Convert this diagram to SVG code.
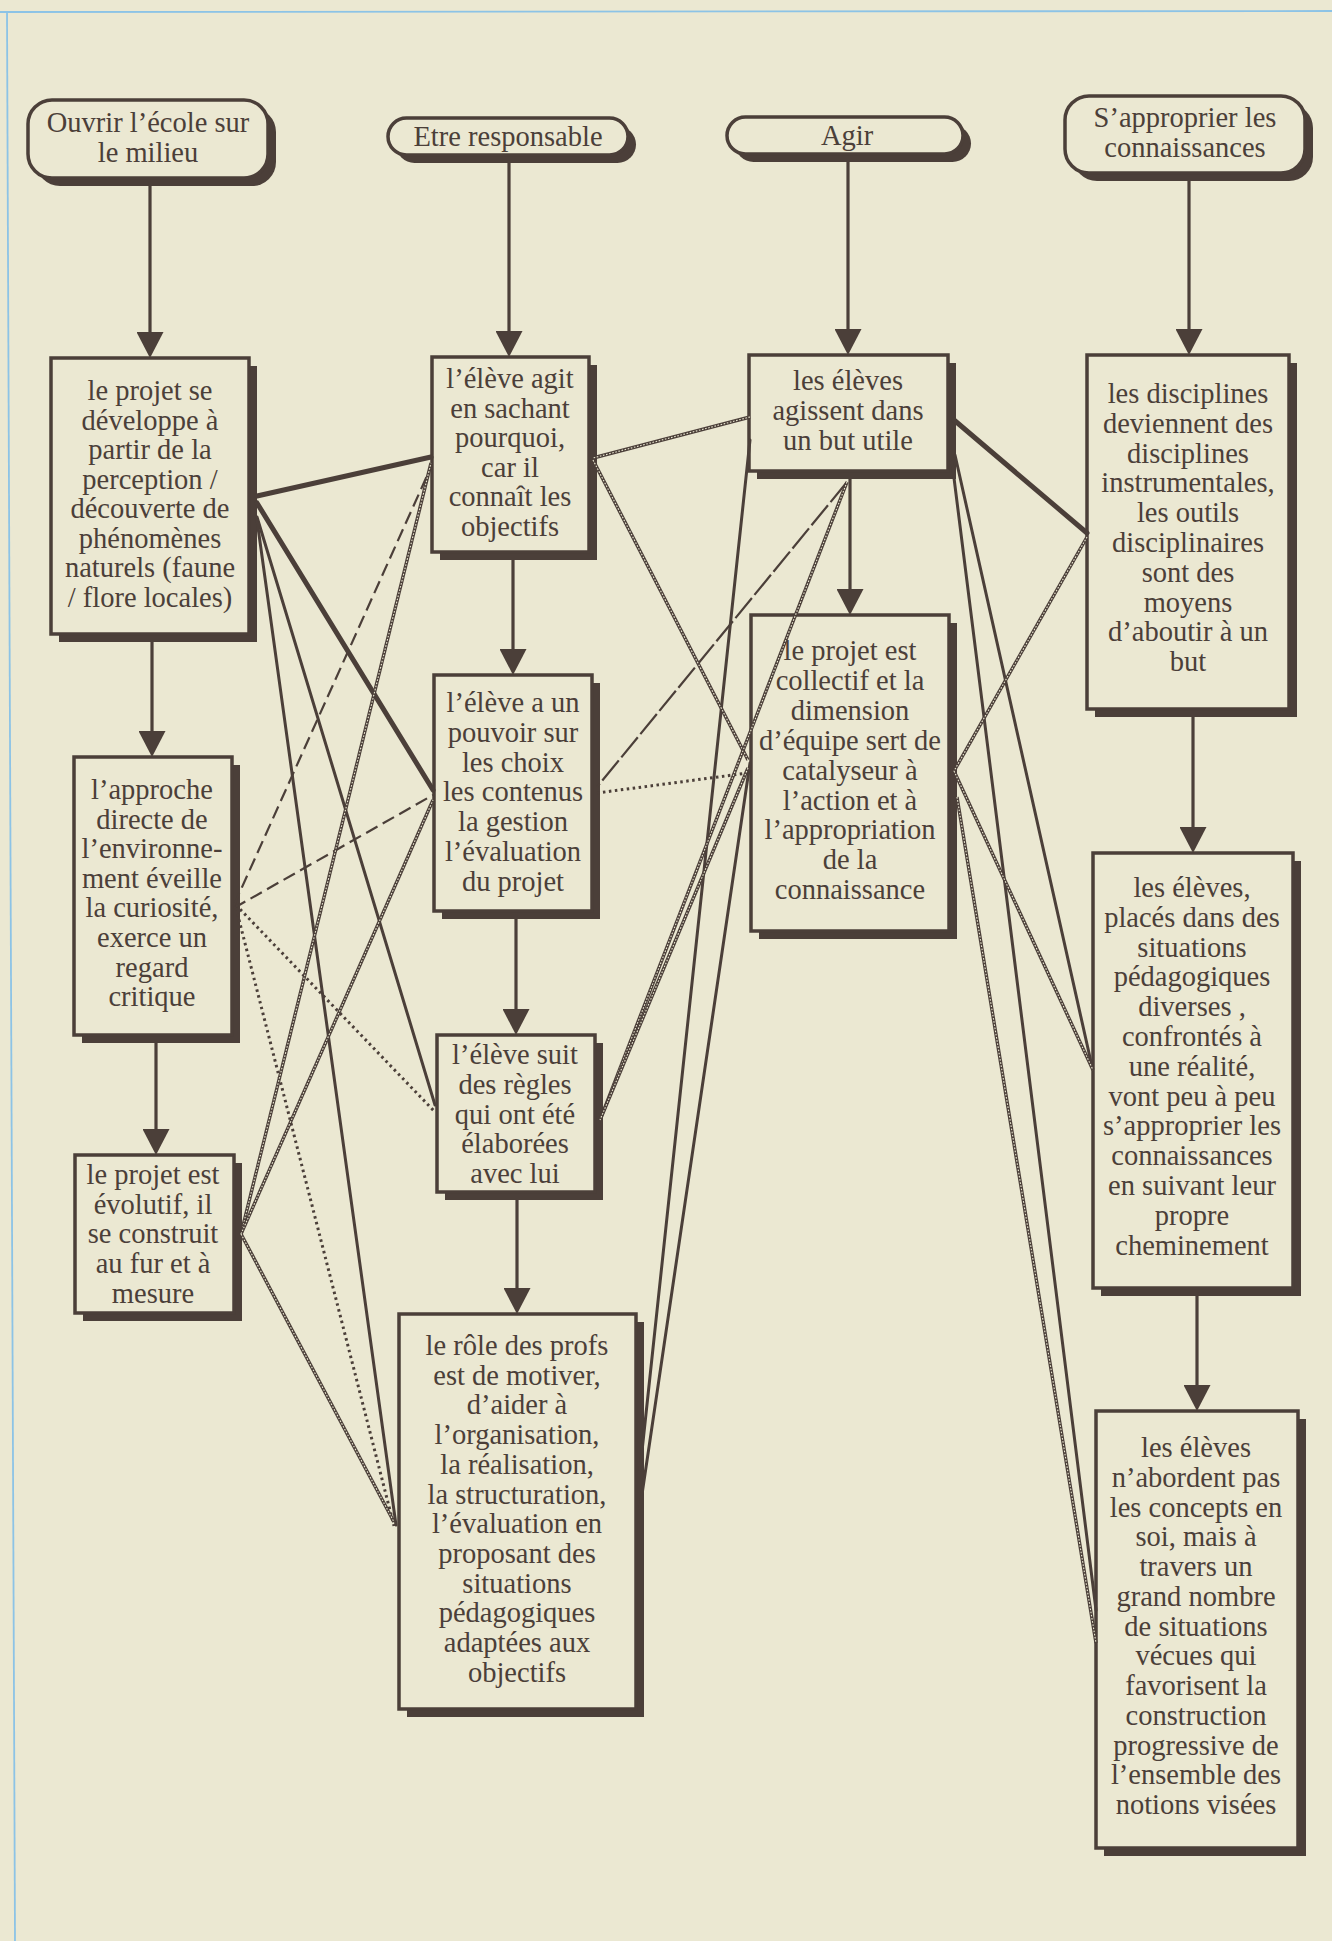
<svg xmlns="http://www.w3.org/2000/svg" width="1332" height="1941" viewBox="0 0 1332 1941">
<style>
.bg{fill:#ebe8d2}
.shadow{fill:#4b3f39}
.box{fill:#ebe8d2;stroke:#4b3f39;stroke-width:3.5}
text{font-family:"Liberation Serif","Times New Roman",serif;font-size:28.5px;fill:#4b3f39;text-anchor:middle}
.arrow{stroke:#4b3f39;stroke-width:3.2;fill:none}
.thick{stroke:#4b3f39;stroke-width:5;stroke-linecap:round}
.solid{stroke:#4b3f39;stroke-width:3;stroke-linecap:round}
.chainA{stroke:#4b3f39;stroke-width:3.4}
.chainB{stroke:#ebe8d2;stroke-width:1.1;stroke-dasharray:1.6 1.6}
.dash{stroke:#4b3f39;stroke-width:2.2;stroke-dasharray:13 6}
.brk{stroke:#4b3f39;stroke-width:2.2;stroke-dasharray:26 4}
.dot{stroke:#4b3f39;stroke-width:3;stroke-dasharray:2.5 3.5}
.edge{stroke:#8cc3e6;stroke-width:1.8}
</style>
<defs>
<marker id="ah" viewBox="0 0 26 27" refX="20" refY="13.5" markerWidth="26" markerHeight="27" orient="auto" markerUnits="userSpaceOnUse">
<path d="M0,0 L26,13.5 L0,27 z" fill="#4b3f39"/>
</marker>
<line id="c10" x1="750" y1="417" x2="593" y2="458"/>
<line id="c11" x1="593" y1="460" x2="748" y2="760"/>
<line id="c12" x1="847" y1="482" x2="600" y2="1120"/>
<line id="c13" x1="748" y1="768" x2="600" y2="1120"/>
<line id="c14" x1="1087" y1="537" x2="954" y2="771"/>
<line id="c15" x1="954" y1="771" x2="1093" y2="1070"/>
<line id="c16" x1="957" y1="797" x2="1096" y2="1643"/>
<line id="c17" x1="241" y1="1234" x2="431" y2="463"/>
<line id="c18" x1="241" y1="1234" x2="433" y2="800"/>
<line id="c19" x1="241" y1="1234" x2="394" y2="1522"/>
</defs>
<rect class="bg" x="0" y="0" width="1332" height="1941"/>
<line class="edge" x1="0" y1="12" x2="1332" y2="11"/>
<line class="edge" x1="7" y1="12" x2="15" y2="1941"/>

<g id="n-ouvrir">
<rect class="shadow" x="36" y="108" width="240" height="78" rx="24"/>
<rect class="box" x="28" y="100" width="240" height="78" rx="24"/>
<text x="148" y="132"><tspan x="148">Ouvrir l’école sur</tspan><tspan x="148" dy="29.5">le milieu</tspan></text>
</g>
<g id="n-etre">
<rect class="shadow" x="396" y="126" width="240" height="37" rx="18.5"/>
<rect class="box" x="388" y="118" width="240" height="37" rx="18.5"/>
<text x="508" y="146">Etre responsable</text>
</g>
<g id="n-agir">
<rect class="shadow" x="735" y="125" width="236" height="37" rx="18.5"/>
<rect class="box" x="727" y="117" width="236" height="37" rx="18.5"/>
<text x="847" y="145">Agir</text>
</g>
<g id="n-approprier">
<rect class="shadow" x="1073" y="104" width="240" height="77" rx="24"/>
<rect class="box" x="1065" y="96" width="240" height="77" rx="24"/>
<text x="1185" y="127"><tspan x="1185">S’approprier les</tspan><tspan x="1185" dy="30">connaissances</tspan></text>
</g>

<g id="n-a1">
<rect class="shadow" x="59" y="366" width="198" height="276"/>
<rect class="box" x="51" y="358" width="198" height="276"/>
<text x="150" y="400"><tspan x="150">le projet se</tspan><tspan x="150" dy="29.5">développe à</tspan><tspan x="150" dy="29.5">partir de la</tspan><tspan x="150" dy="29.5">perception /</tspan><tspan x="150" dy="29.5">découverte de</tspan><tspan x="150" dy="29.5">phénomènes</tspan><tspan x="150" dy="29.5">naturels (faune</tspan><tspan x="150" dy="29.5">/ flore locales)</tspan></text>
</g>
<g id="n-a2">
<rect class="shadow" x="82" y="765" width="158" height="278"/>
<rect class="box" x="74" y="757" width="158" height="278"/>
<text x="152" y="799"><tspan x="152">l’approche</tspan><tspan x="152" dy="29.6">directe de</tspan><tspan x="152" dy="29.6">l’environne-</tspan><tspan x="152" dy="29.6">ment éveille</tspan><tspan x="152" dy="29.6">la curiosité,</tspan><tspan x="152" dy="29.6">exerce un</tspan><tspan x="152" dy="29.6">regard</tspan><tspan x="152" dy="29.6">critique</tspan></text>
</g>
<g id="n-a3">
<rect class="shadow" x="83" y="1163" width="159" height="158"/>
<rect class="box" x="75" y="1155" width="159" height="158"/>
<text x="153" y="1184"><tspan x="153">le projet est</tspan><tspan x="153" dy="29.7">évolutif, il</tspan><tspan x="153" dy="29.7">se construit</tspan><tspan x="153" dy="29.7">au fur et à</tspan><tspan x="153" dy="29.7">mesure</tspan></text>
</g>

<g id="n-b1">
<rect class="shadow" x="440" y="365" width="157" height="195"/>
<rect class="box" x="432" y="357" width="157" height="195"/>
<text x="510" y="388"><tspan x="510">l’élève agit</tspan><tspan x="510" dy="29.6">en sachant</tspan><tspan x="510" dy="29.6">pourquoi,</tspan><tspan x="510" dy="29.6">car il</tspan><tspan x="510" dy="29.6">connaît les</tspan><tspan x="510" dy="29.6">objectifs</tspan></text>
</g>
<g id="n-b2">
<rect class="shadow" x="442" y="683" width="158" height="236"/>
<rect class="box" x="434" y="675" width="158" height="236"/>
<text x="513" y="712"><tspan x="513">l’élève a un</tspan><tspan x="513" dy="29.8">pouvoir sur</tspan><tspan x="513" dy="29.8">les choix</tspan><tspan x="513" dy="29.8">les contenus</tspan><tspan x="513" dy="29.8">la gestion</tspan><tspan x="513" dy="29.8">l’évaluation</tspan><tspan x="513" dy="29.8">du projet</tspan></text>
</g>
<g id="n-b3">
<rect class="shadow" x="445" y="1043" width="158" height="157"/>
<rect class="box" x="437" y="1035" width="158" height="157"/>
<text x="515" y="1064"><tspan x="515">l’élève suit</tspan><tspan x="515" dy="29.8">des règles</tspan><tspan x="515" dy="29.8">qui ont été</tspan><tspan x="515" dy="29.8">élaborées</tspan><tspan x="515" dy="29.8">avec lui</tspan></text>
</g>
<g id="n-b4">
<rect class="shadow" x="407" y="1322" width="237" height="395"/>
<rect class="box" x="399" y="1314" width="237" height="395"/>
<text x="517" y="1355"><tspan x="517">le rôle des profs</tspan><tspan x="517" dy="29.7">est de motiver,</tspan><tspan x="517" dy="29.7">d’aider à</tspan><tspan x="517" dy="29.7">l’organisation,</tspan><tspan x="517" dy="29.7">la réalisation,</tspan><tspan x="517" dy="29.7">la structuration,</tspan><tspan x="517" dy="29.7">l’évaluation en</tspan><tspan x="517" dy="29.7">proposant des</tspan><tspan x="517" dy="29.7">situations</tspan><tspan x="517" dy="29.7">pédagogiques</tspan><tspan x="517" dy="29.7">adaptées aux</tspan><tspan x="517" dy="29.7">objectifs</tspan></text>
</g>

<g id="n-c1">
<rect class="shadow" x="757" y="363" width="199" height="116"/>
<rect class="box" x="749" y="355" width="199" height="116"/>
<text x="848" y="390"><tspan x="848">les élèves</tspan><tspan x="848" dy="30">agissent dans</tspan><tspan x="848" dy="30">un but utile</tspan></text>
</g>
<g id="n-c2">
<rect class="shadow" x="759" y="623" width="198" height="316"/>
<rect class="box" x="751" y="615" width="198" height="316"/>
<text x="850" y="660"><tspan x="850">le projet est</tspan><tspan x="850" dy="29.9">collectif et la</tspan><tspan x="850" dy="29.9">dimension</tspan><tspan x="850" dy="29.9">d’équipe sert de</tspan><tspan x="850" dy="29.9">catalyseur à</tspan><tspan x="850" dy="29.9">l’action et à</tspan><tspan x="850" dy="29.9">l’appropriation</tspan><tspan x="850" dy="29.9">de la</tspan><tspan x="850" dy="29.9">connaissance</tspan></text>
</g>

<g id="n-d1">
<rect class="shadow" x="1095" y="363" width="202" height="354"/>
<rect class="box" x="1087" y="355" width="202" height="354"/>
<text x="1188" y="403"><tspan x="1188">les disciplines</tspan><tspan x="1188" dy="29.8">deviennent des</tspan><tspan x="1188" dy="29.8">disciplines</tspan><tspan x="1188" dy="29.8">instrumentales,</tspan><tspan x="1188" dy="29.8">les outils</tspan><tspan x="1188" dy="29.8">disciplinaires</tspan><tspan x="1188" dy="29.8">sont des</tspan><tspan x="1188" dy="29.8">moyens</tspan><tspan x="1188" dy="29.8">d’aboutir à un</tspan><tspan x="1188" dy="29.8">but</tspan></text>
</g>
<g id="n-d2">
<rect class="shadow" x="1101" y="861" width="200" height="435"/>
<rect class="box" x="1093" y="853" width="200" height="435"/>
<text x="1192" y="897"><tspan x="1192">les élèves,</tspan><tspan x="1192" dy="29.8">placés dans des</tspan><tspan x="1192" dy="29.8">situations</tspan><tspan x="1192" dy="29.8">pédagogiques</tspan><tspan x="1192" dy="29.8">diverses ,</tspan><tspan x="1192" dy="29.8">confrontés à</tspan><tspan x="1192" dy="29.8">une réalité,</tspan><tspan x="1192" dy="29.8">vont peu à peu</tspan><tspan x="1192" dy="29.8">s’approprier les</tspan><tspan x="1192" dy="29.8">connaissances</tspan><tspan x="1192" dy="29.8">en suivant leur</tspan><tspan x="1192" dy="29.8">propre</tspan><tspan x="1192" dy="29.8">cheminement</tspan></text>
</g>
<g id="n-d3">
<rect class="shadow" x="1104" y="1419" width="202" height="437"/>
<rect class="box" x="1096" y="1411" width="202" height="437"/>
<text x="1196" y="1457"><tspan x="1196">les élèves</tspan><tspan x="1196" dy="29.75">n’abordent pas</tspan><tspan x="1196" dy="29.75">les concepts en</tspan><tspan x="1196" dy="29.75">soi, mais à</tspan><tspan x="1196" dy="29.75">travers un</tspan><tspan x="1196" dy="29.75">grand nombre</tspan><tspan x="1196" dy="29.75">de situations</tspan><tspan x="1196" dy="29.75">vécues qui</tspan><tspan x="1196" dy="29.75">favorisent la</tspan><tspan x="1196" dy="29.75">construction</tspan><tspan x="1196" dy="29.75">progressive de</tspan><tspan x="1196" dy="29.75">l’ensemble des</tspan><tspan x="1196" dy="29.75">notions visées</tspan></text>
</g>

<g id="connectors">
<line class="arrow" x1="150" y1="186" x2="150" y2="352" marker-end="url(#ah)"/>
<line class="arrow" x1="509" y1="163" x2="509" y2="351" marker-end="url(#ah)"/>
<line class="arrow" x1="848" y1="162" x2="848" y2="349" marker-end="url(#ah)"/>
<line class="arrow" x1="1189" y1="181" x2="1189" y2="349" marker-end="url(#ah)"/>
<line class="arrow" x1="152" y1="642" x2="152" y2="751" marker-end="url(#ah)"/>
<line class="arrow" x1="156" y1="1043" x2="156" y2="1149" marker-end="url(#ah)"/>
<line class="arrow" x1="513" y1="560" x2="513" y2="669" marker-end="url(#ah)"/>
<line class="arrow" x1="516" y1="919" x2="516" y2="1029" marker-end="url(#ah)"/>
<line class="arrow" x1="517" y1="1200" x2="517" y2="1308" marker-end="url(#ah)"/>
<line class="arrow" x1="850" y1="479" x2="850" y2="609" marker-end="url(#ah)"/>
<line class="arrow" x1="1193" y1="717" x2="1193" y2="847" marker-end="url(#ah)"/>
<line class="arrow" x1="1197" y1="1296" x2="1197" y2="1405" marker-end="url(#ah)"/>

<line class="thick" x1="257" y1="496" x2="431" y2="457"/>
<line class="thick" x1="257" y1="503" x2="433" y2="790"/>
<line class="thick" x1="954" y1="420" x2="1087" y2="533"/>

<line class="solid" x1="257" y1="517" x2="435" y2="1105"/>
<line class="solid" x1="257" y1="520" x2="396" y2="1525"/>
<line class="solid" x1="750" y1="440" x2="640" y2="1470"/>
<line class="solid" x1="750" y1="763" x2="640" y2="1508"/>
<line class="solid" x1="955" y1="455" x2="1091" y2="1062"/>
<line class="solid" x1="952" y1="462" x2="1096" y2="1610"/>

<line class="dash" x1="234" y1="905" x2="431" y2="467"/>
<line class="dash" x1="234" y1="908" x2="433" y2="795"/>
<line class="brk" x1="847" y1="482" x2="597" y2="787"/>

<line class="dot" x1="236" y1="905" x2="435" y2="1112"/>
<line class="dot" x1="236" y1="908" x2="394" y2="1526"/>
<line class="dot" x1="597" y1="793" x2="748" y2="773"/>

<use href="#c10" class="chainA"/><use href="#c10" class="chainB"/>
<use href="#c11" class="chainA"/><use href="#c11" class="chainB"/>
<use href="#c12" class="chainA"/><use href="#c12" class="chainB"/>
<use href="#c13" class="chainA"/><use href="#c13" class="chainB"/>
<use href="#c14" class="chainA"/><use href="#c14" class="chainB"/>
<use href="#c15" class="chainA"/><use href="#c15" class="chainB"/>
<use href="#c16" class="chainA"/><use href="#c16" class="chainB"/>
<use href="#c17" class="chainA"/><use href="#c17" class="chainB"/>
<use href="#c18" class="chainA"/><use href="#c18" class="chainB"/>
<use href="#c19" class="chainA"/><use href="#c19" class="chainB"/>
</g>
</svg>
